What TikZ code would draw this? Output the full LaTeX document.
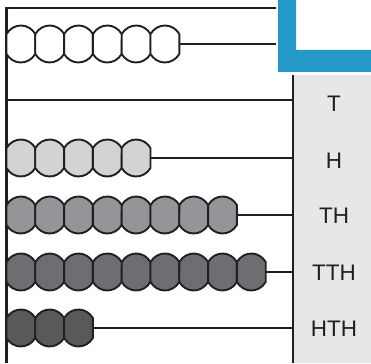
\documentclass[tikz,border=0pt]{standalone}
\usepackage{fontspec}
\setmainfont{Liberation Sans}
\definecolor{ink}{HTML}{231F20}
\definecolor{blueL}{HTML}{2499C7}
\definecolor{panel}{HTML}{E6E7E8}
\definecolor{beadB}{HTML}{D1D3D4}
\definecolor{beadC}{HTML}{939598}
\definecolor{beadD}{HTML}{6D6E71}
\definecolor{beadE}{HTML}{58595B}
\begin{document}
\begin{tikzpicture}[x=1pt,y=-1pt,
  rod/.style={draw=ink,line width=2.2pt},
  beadline/.style={draw=ink,line width=1.9pt,line join=round},
  lab/.style={font=\fontsize{22.5}{22.5}\selectfont,text=ink,inner sep=0pt}]
\useasboundingbox (0,0) rectangle (371,363);
% panel
\fill[panel] (294,75) rectangle (371,363);
\coordinate (pTop) at (293,75);
\coordinate (pBot) at (293,363);
\draw[rod] (pTop) -- (pBot);
% blue L
\fill[blueL] (278,0) -- (296,0) -- (296,50) -- (371,50) -- (371,72) -- (278,72) -- cycle;
% frame
\coordinate (fTR) at (276,8.3);
\coordinate (fTL) at (6.5,8.3);
\coordinate (fBL) at (6.5,363);
\draw[rod,line join=miter] (fTR) -- (fTL) -- (fBL);
% rods
\foreach \n/\y/\e in {a/44/276, t/100/293, h/158/293, th/215/293, tth/272/293, hth/328/293}{
  \coordinate (\n s) at (6.5,\y);
  \coordinate (\n e) at (\e,\y);
  \draw[rod] (\n s) -- (\n e);
}
% beads: ellipse 17.1 x 18.5 cut by vertical sides at +-14.4
\foreach \n/\y/\k/\c in {a/44/6/white, h/158/5/beadB, th/215/8/beadC, tth/272/9/beadD, hth/328/3/beadE}{
  \foreach \i in {1,...,\k}{
    \coordinate (b\n\i) at ({6.5+14.4+(\i-1)*28.8},\y);
    \begin{scope}[shift={(b\n\i)}]
      \path[beadline,fill=\c] (14.4,9.97)
        arc[start angle=32.6,end angle=147.4,x radius=17.1,y radius=18.5]
        -- (-14.4,-9.97)
        arc[start angle=212.6,end angle=327.4,x radius=17.1,y radius=18.5]
        -- cycle;
    \end{scope}
  }
}
% labels
\node[lab] (lT) at (334,103.5) {T};
\node[lab] (lH) at (334,160.5) {H};
\node[lab] (lTH) at (334,216) {TH};
\node[lab] (lTTH) at (334,273) {TTH};
\node[lab] (lHTH) at (334,329) {HTH};
\end{tikzpicture}
\end{document}
